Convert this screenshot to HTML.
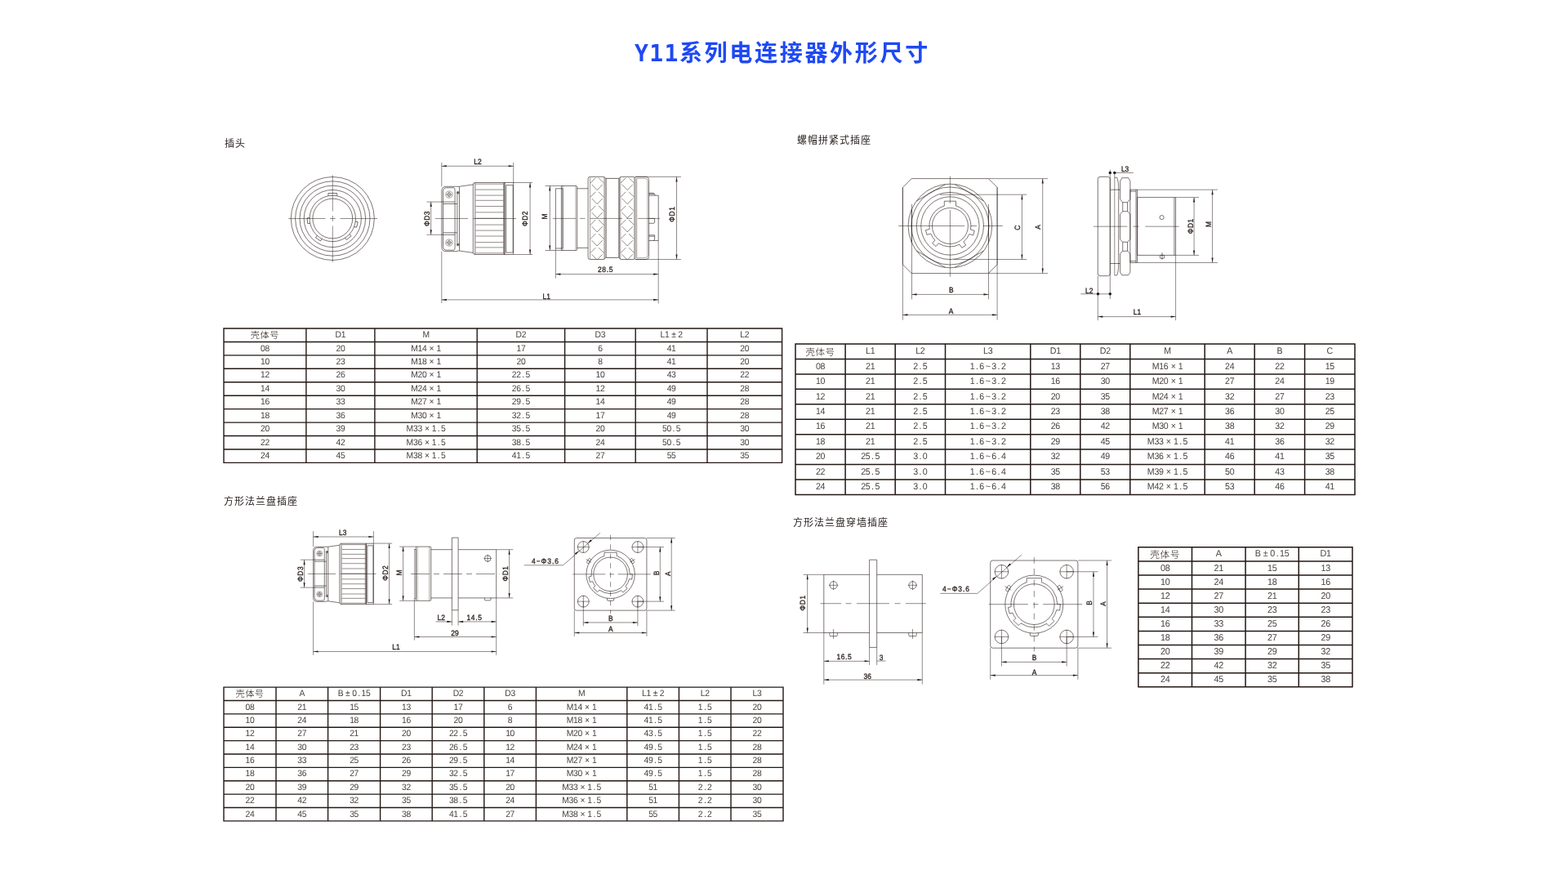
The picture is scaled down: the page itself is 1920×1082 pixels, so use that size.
<!DOCTYPE html>
<html lang="zh-CN">
<head>
<meta charset="utf-8">
<title>Y11系列电连接器外形尺寸</title>
<style>
html,body{margin:0;padding:0;background:#fff;}
body{width:1920px;height:1082px;position:relative;overflow:hidden;font-family:"Liberation Sans","Noto Sans CJK SC",sans-serif;}
h1{position:absolute;left:-2px;top:46px;width:1920px;margin:0;text-align:center;font:bold 28px/40px "DejaVu Sans Mono","Noto Sans CJK SC",sans-serif;letter-spacing:2.7px;color:#1f49f3;white-space:nowrap;}
.lab{position:absolute;margin:0;font:400 12px/16px "Liberation Sans","Noto Sans CJK SC",sans-serif;color:#2a2220;white-space:nowrap;letter-spacing:1px;}
svg{position:absolute;left:0;top:0;will-change:transform;}
h1,.lab{will-change:transform;}

svg text{text-rendering:geometricPrecision}
.o{fill:none;stroke:#231815;stroke-width:.6;stroke-linecap:butt;stroke-linejoin:round}
.d{fill:none;stroke:#231815;stroke-width:.5}
.c{fill:none;stroke:#231815;stroke-width:.5}
.i{fill:none;stroke:#231815;stroke-width:.4}
.g{fill:none;stroke:#8a8280;stroke-width:.9}
.k{fill:#231815;stroke:none}
.tb{fill:none;stroke:#231815;stroke-linecap:butt}
.t{font:9.35px "Liberation Sans","Noto Sans CJK SC",sans-serif;fill:#231815;stroke:#231815;stroke-width:.3px;text-anchor:middle;dominant-baseline:central}
.tt{font-family:"Liberation Sans","Noto Sans CJK SC",sans-serif;fill:#4a4240;text-anchor:middle;letter-spacing:-.3px}
.tt .cj{font-family:"Noto Sans CJK SC","Liberation Sans",sans-serif;font-weight:300;letter-spacing:.5px;font-size:103%;fill:#231815}
</style>
</head>
<body>
<h1><span style="letter-spacing:1.4px">Y11</span>系列电连接器外形尺寸</h1>
<p class="lab" style="left:275px;top:168px">插头</p>
<p class="lab" style="left:976px;top:164px">螺帽拼紧式插座</p>
<p class="lab" style="left:274px;top:606px">方形法兰盘插座</p>
<p class="lab" style="left:971px;top:632px">方形法兰盘穿墙插座</p>
<svg width="1920" height="1082" viewBox="0 0 1920 1082">
<path class="tb" style="stroke-width:1.4" d="M273.3 402H958.3M273.3 418.44H958.3M273.3 434.88H958.3M273.3 451.32H958.3M273.3 467.76H958.3M273.3 484.2H958.3M273.3 500.64H958.3M273.3 517.08H958.3M273.3 533.52H958.3M273.3 549.96H958.3M273.3 566.4H958.3M274 402V566.4M374.9 402V566.4M458.9 402V566.4M584.2 402V566.4M691.6 402V566.4M778.2 402V566.4M866 402V566.4M957.6 402V566.4"/>
<g class="tt" style="font-size:10.9px">
<text class="cj" x="324.45" y="414.39">壳体号</text>
<text transform="translate(416.9 412.79) scale(0.95 1)">D1</text>
<text transform="translate(521.55 412.79) scale(0.95 1)">M</text>
<text transform="translate(637.9 412.79) scale(0.95 1)">D2</text>
<text transform="translate(734.9 412.79) scale(0.95 1)">D3</text>
<text transform="translate(822.1 412.79) scale(0.95 1)">L1<tspan dx="2.93">±</tspan><tspan dx="2.93">2</tspan></text>
<text transform="translate(911.8 412.79) scale(0.95 1)">L2</text>
<text transform="translate(324.45 429.53) scale(0.95 1)">08</text>
<text transform="translate(416.9 429.53) scale(0.95 1)">20</text>
<text transform="translate(521.55 429.53) scale(0.95 1)">M14<tspan dx="3.25">×</tspan><tspan dx="3.25">1</tspan></text>
<text transform="translate(637.9 429.53) scale(0.95 1)">17</text>
<text transform="translate(734.9 429.53) scale(0.95 1)">6</text>
<text transform="translate(822.1 429.53) scale(0.95 1)">41</text>
<text transform="translate(911.8 429.53) scale(0.95 1)">20</text>
<text transform="translate(324.45 445.97) scale(0.95 1)">10</text>
<text transform="translate(416.9 445.97) scale(0.95 1)">23</text>
<text transform="translate(521.55 445.97) scale(0.95 1)">M18<tspan dx="3.25">×</tspan><tspan dx="3.25">1</tspan></text>
<text transform="translate(637.9 445.97) scale(0.95 1)">20</text>
<text transform="translate(734.9 445.97) scale(0.95 1)">8</text>
<text transform="translate(822.1 445.97) scale(0.95 1)">41</text>
<text transform="translate(911.8 445.97) scale(0.95 1)">20</text>
<text transform="translate(324.45 462.41) scale(0.95 1)">12</text>
<text transform="translate(416.9 462.41) scale(0.95 1)">26</text>
<text transform="translate(521.55 462.41) scale(0.95 1)">M20<tspan dx="3.25">×</tspan><tspan dx="3.25">1</tspan></text>
<text transform="translate(637.9 462.41) scale(0.95 1)">22<tspan dx="1.68">.</tspan><tspan dx="1.68">5</tspan></text>
<text transform="translate(734.9 462.41) scale(0.95 1)">10</text>
<text transform="translate(822.1 462.41) scale(0.95 1)">43</text>
<text transform="translate(911.8 462.41) scale(0.95 1)">22</text>
<text transform="translate(324.45 478.85) scale(0.95 1)">14</text>
<text transform="translate(416.9 478.85) scale(0.95 1)">30</text>
<text transform="translate(521.55 478.85) scale(0.95 1)">M24<tspan dx="3.25">×</tspan><tspan dx="3.25">1</tspan></text>
<text transform="translate(637.9 478.85) scale(0.95 1)">26<tspan dx="1.68">.</tspan><tspan dx="1.68">5</tspan></text>
<text transform="translate(734.9 478.85) scale(0.95 1)">12</text>
<text transform="translate(822.1 478.85) scale(0.95 1)">49</text>
<text transform="translate(911.8 478.85) scale(0.95 1)">28</text>
<text transform="translate(324.45 495.29) scale(0.95 1)">16</text>
<text transform="translate(416.9 495.29) scale(0.95 1)">33</text>
<text transform="translate(521.55 495.29) scale(0.95 1)">M27<tspan dx="3.25">×</tspan><tspan dx="3.25">1</tspan></text>
<text transform="translate(637.9 495.29) scale(0.95 1)">29<tspan dx="1.68">.</tspan><tspan dx="1.68">5</tspan></text>
<text transform="translate(734.9 495.29) scale(0.95 1)">14</text>
<text transform="translate(822.1 495.29) scale(0.95 1)">49</text>
<text transform="translate(911.8 495.29) scale(0.95 1)">28</text>
<text transform="translate(324.45 511.73) scale(0.95 1)">18</text>
<text transform="translate(416.9 511.73) scale(0.95 1)">36</text>
<text transform="translate(521.55 511.73) scale(0.95 1)">M30<tspan dx="3.25">×</tspan><tspan dx="3.25">1</tspan></text>
<text transform="translate(637.9 511.73) scale(0.95 1)">32<tspan dx="1.68">.</tspan><tspan dx="1.68">5</tspan></text>
<text transform="translate(734.9 511.73) scale(0.95 1)">17</text>
<text transform="translate(822.1 511.73) scale(0.95 1)">49</text>
<text transform="translate(911.8 511.73) scale(0.95 1)">28</text>
<text transform="translate(324.45 528.17) scale(0.95 1)">20</text>
<text transform="translate(416.9 528.17) scale(0.95 1)">39</text>
<text transform="translate(521.55 528.17) scale(0.95 1)">M33<tspan dx="3.25">×</tspan><tspan dx="3.25">1</tspan><tspan dx="1.68">.</tspan><tspan dx="1.68">5</tspan></text>
<text transform="translate(637.9 528.17) scale(0.95 1)">35<tspan dx="1.68">.</tspan><tspan dx="1.68">5</tspan></text>
<text transform="translate(734.9 528.17) scale(0.95 1)">20</text>
<text transform="translate(822.1 528.17) scale(0.95 1)">50<tspan dx="1.68">.</tspan><tspan dx="1.68">5</tspan></text>
<text transform="translate(911.8 528.17) scale(0.95 1)">30</text>
<text transform="translate(324.45 544.61) scale(0.95 1)">22</text>
<text transform="translate(416.9 544.61) scale(0.95 1)">42</text>
<text transform="translate(521.55 544.61) scale(0.95 1)">M36<tspan dx="3.25">×</tspan><tspan dx="3.25">1</tspan><tspan dx="1.68">.</tspan><tspan dx="1.68">5</tspan></text>
<text transform="translate(637.9 544.61) scale(0.95 1)">38<tspan dx="1.68">.</tspan><tspan dx="1.68">5</tspan></text>
<text transform="translate(734.9 544.61) scale(0.95 1)">24</text>
<text transform="translate(822.1 544.61) scale(0.95 1)">50<tspan dx="1.68">.</tspan><tspan dx="1.68">5</tspan></text>
<text transform="translate(911.8 544.61) scale(0.95 1)">30</text>
<text transform="translate(324.45 561.05) scale(0.95 1)">24</text>
<text transform="translate(416.9 561.05) scale(0.95 1)">45</text>
<text transform="translate(521.55 561.05) scale(0.95 1)">M38<tspan dx="3.25">×</tspan><tspan dx="3.25">1</tspan><tspan dx="1.68">.</tspan><tspan dx="1.68">5</tspan></text>
<text transform="translate(637.9 561.05) scale(0.95 1)">41<tspan dx="1.68">.</tspan><tspan dx="1.68">5</tspan></text>
<text transform="translate(734.9 561.05) scale(0.95 1)">27</text>
<text transform="translate(822.1 561.05) scale(0.95 1)">55</text>
<text transform="translate(911.8 561.05) scale(0.95 1)">35</text>
</g>
<path class="tb" style="stroke-width:1.5" d="M973.25 421H1659.75M973.25 439.44H1659.75M973.25 457.88H1659.75M973.25 476.32H1659.75M973.25 494.76H1659.75M973.25 513.2H1659.75M973.25 531.64H1659.75M973.25 550.08H1659.75M973.25 568.52H1659.75M973.25 586.96H1659.75M973.25 605.4H1659.75M974 421V605.4M1035.1 421V605.4M1096.2 421V605.4M1157.5 421V605.4M1261.8 421V605.4M1322.8 421V605.4M1383.8 421V605.4M1475.2 421V605.4M1536.2 421V605.4M1597.6 421V605.4M1659 421V605.4"/>
<g class="tt" style="font-size:11.2px">
<text class="cj" x="1004.55" y="434.5">壳体号</text>
<text transform="translate(1065.65 432.9) scale(0.95 1)">L1</text>
<text transform="translate(1126.85 432.9) scale(0.95 1)">L2</text>
<text transform="translate(1209.65 432.9) scale(0.95 1)">L3</text>
<text transform="translate(1292.3 432.9) scale(0.95 1)">D1</text>
<text transform="translate(1353.3 432.9) scale(0.95 1)">D2</text>
<text transform="translate(1429.5 432.9) scale(0.95 1)">M</text>
<text transform="translate(1505.7 432.9) scale(0.95 1)">A</text>
<text transform="translate(1566.9 432.9) scale(0.95 1)">B</text>
<text transform="translate(1628.3 432.9) scale(0.95 1)">C</text>
<text transform="translate(1004.55 451.64) scale(0.95 1)">08</text>
<text transform="translate(1065.65 451.64) scale(0.95 1)">21</text>
<text transform="translate(1126.85 451.64) scale(0.95 1)">2<tspan dx="1.72">.</tspan><tspan dx="1.72">5</tspan></text>
<text transform="translate(1209.65 451.64) scale(0.95 1)">1<tspan dx="1.72">.</tspan><tspan dx="1.72">6</tspan><tspan dx="1.83">~</tspan><tspan dx="1.83">3</tspan><tspan dx="1.72">.</tspan><tspan dx="1.72">2</tspan></text>
<text transform="translate(1292.3 451.64) scale(0.95 1)">13</text>
<text transform="translate(1353.3 451.64) scale(0.95 1)">27</text>
<text transform="translate(1429.5 451.64) scale(0.95 1)">M16<tspan dx="3.34">×</tspan><tspan dx="3.34">1</tspan></text>
<text transform="translate(1505.7 451.64) scale(0.95 1)">24</text>
<text transform="translate(1566.9 451.64) scale(0.95 1)">22</text>
<text transform="translate(1628.3 451.64) scale(0.95 1)">15</text>
<text transform="translate(1004.55 470.08) scale(0.95 1)">10</text>
<text transform="translate(1065.65 470.08) scale(0.95 1)">21</text>
<text transform="translate(1126.85 470.08) scale(0.95 1)">2<tspan dx="1.72">.</tspan><tspan dx="1.72">5</tspan></text>
<text transform="translate(1209.65 470.08) scale(0.95 1)">1<tspan dx="1.72">.</tspan><tspan dx="1.72">6</tspan><tspan dx="1.83">~</tspan><tspan dx="1.83">3</tspan><tspan dx="1.72">.</tspan><tspan dx="1.72">2</tspan></text>
<text transform="translate(1292.3 470.08) scale(0.95 1)">16</text>
<text transform="translate(1353.3 470.08) scale(0.95 1)">30</text>
<text transform="translate(1429.5 470.08) scale(0.95 1)">M20<tspan dx="3.34">×</tspan><tspan dx="3.34">1</tspan></text>
<text transform="translate(1505.7 470.08) scale(0.95 1)">27</text>
<text transform="translate(1566.9 470.08) scale(0.95 1)">24</text>
<text transform="translate(1628.3 470.08) scale(0.95 1)">19</text>
<text transform="translate(1004.55 488.52) scale(0.95 1)">12</text>
<text transform="translate(1065.65 488.52) scale(0.95 1)">21</text>
<text transform="translate(1126.85 488.52) scale(0.95 1)">2<tspan dx="1.72">.</tspan><tspan dx="1.72">5</tspan></text>
<text transform="translate(1209.65 488.52) scale(0.95 1)">1<tspan dx="1.72">.</tspan><tspan dx="1.72">6</tspan><tspan dx="1.83">~</tspan><tspan dx="1.83">3</tspan><tspan dx="1.72">.</tspan><tspan dx="1.72">2</tspan></text>
<text transform="translate(1292.3 488.52) scale(0.95 1)">20</text>
<text transform="translate(1353.3 488.52) scale(0.95 1)">35</text>
<text transform="translate(1429.5 488.52) scale(0.95 1)">M24<tspan dx="3.34">×</tspan><tspan dx="3.34">1</tspan></text>
<text transform="translate(1505.7 488.52) scale(0.95 1)">32</text>
<text transform="translate(1566.9 488.52) scale(0.95 1)">27</text>
<text transform="translate(1628.3 488.52) scale(0.95 1)">23</text>
<text transform="translate(1004.55 506.96) scale(0.95 1)">14</text>
<text transform="translate(1065.65 506.96) scale(0.95 1)">21</text>
<text transform="translate(1126.85 506.96) scale(0.95 1)">2<tspan dx="1.72">.</tspan><tspan dx="1.72">5</tspan></text>
<text transform="translate(1209.65 506.96) scale(0.95 1)">1<tspan dx="1.72">.</tspan><tspan dx="1.72">6</tspan><tspan dx="1.83">~</tspan><tspan dx="1.83">3</tspan><tspan dx="1.72">.</tspan><tspan dx="1.72">2</tspan></text>
<text transform="translate(1292.3 506.96) scale(0.95 1)">23</text>
<text transform="translate(1353.3 506.96) scale(0.95 1)">38</text>
<text transform="translate(1429.5 506.96) scale(0.95 1)">M27<tspan dx="3.34">×</tspan><tspan dx="3.34">1</tspan></text>
<text transform="translate(1505.7 506.96) scale(0.95 1)">36</text>
<text transform="translate(1566.9 506.96) scale(0.95 1)">30</text>
<text transform="translate(1628.3 506.96) scale(0.95 1)">25</text>
<text transform="translate(1004.55 525.4) scale(0.95 1)">16</text>
<text transform="translate(1065.65 525.4) scale(0.95 1)">21</text>
<text transform="translate(1126.85 525.4) scale(0.95 1)">2<tspan dx="1.72">.</tspan><tspan dx="1.72">5</tspan></text>
<text transform="translate(1209.65 525.4) scale(0.95 1)">1<tspan dx="1.72">.</tspan><tspan dx="1.72">6</tspan><tspan dx="1.83">~</tspan><tspan dx="1.83">3</tspan><tspan dx="1.72">.</tspan><tspan dx="1.72">2</tspan></text>
<text transform="translate(1292.3 525.4) scale(0.95 1)">26</text>
<text transform="translate(1353.3 525.4) scale(0.95 1)">42</text>
<text transform="translate(1429.5 525.4) scale(0.95 1)">M30<tspan dx="3.34">×</tspan><tspan dx="3.34">1</tspan></text>
<text transform="translate(1505.7 525.4) scale(0.95 1)">38</text>
<text transform="translate(1566.9 525.4) scale(0.95 1)">32</text>
<text transform="translate(1628.3 525.4) scale(0.95 1)">29</text>
<text transform="translate(1004.55 543.84) scale(0.95 1)">18</text>
<text transform="translate(1065.65 543.84) scale(0.95 1)">21</text>
<text transform="translate(1126.85 543.84) scale(0.95 1)">2<tspan dx="1.72">.</tspan><tspan dx="1.72">5</tspan></text>
<text transform="translate(1209.65 543.84) scale(0.95 1)">1<tspan dx="1.72">.</tspan><tspan dx="1.72">6</tspan><tspan dx="1.83">~</tspan><tspan dx="1.83">3</tspan><tspan dx="1.72">.</tspan><tspan dx="1.72">2</tspan></text>
<text transform="translate(1292.3 543.84) scale(0.95 1)">29</text>
<text transform="translate(1353.3 543.84) scale(0.95 1)">45</text>
<text transform="translate(1429.5 543.84) scale(0.95 1)">M33<tspan dx="3.34">×</tspan><tspan dx="3.34">1</tspan><tspan dx="1.72">.</tspan><tspan dx="1.72">5</tspan></text>
<text transform="translate(1505.7 543.84) scale(0.95 1)">41</text>
<text transform="translate(1566.9 543.84) scale(0.95 1)">36</text>
<text transform="translate(1628.3 543.84) scale(0.95 1)">32</text>
<text transform="translate(1004.55 562.28) scale(0.95 1)">20</text>
<text transform="translate(1065.65 562.28) scale(0.95 1)">25<tspan dx="1.72">.</tspan><tspan dx="1.72">5</tspan></text>
<text transform="translate(1126.85 562.28) scale(0.95 1)">3<tspan dx="1.72">.</tspan><tspan dx="1.72">0</tspan></text>
<text transform="translate(1209.65 562.28) scale(0.95 1)">1<tspan dx="1.72">.</tspan><tspan dx="1.72">6</tspan><tspan dx="1.83">~</tspan><tspan dx="1.83">6</tspan><tspan dx="1.72">.</tspan><tspan dx="1.72">4</tspan></text>
<text transform="translate(1292.3 562.28) scale(0.95 1)">32</text>
<text transform="translate(1353.3 562.28) scale(0.95 1)">49</text>
<text transform="translate(1429.5 562.28) scale(0.95 1)">M36<tspan dx="3.34">×</tspan><tspan dx="3.34">1</tspan><tspan dx="1.72">.</tspan><tspan dx="1.72">5</tspan></text>
<text transform="translate(1505.7 562.28) scale(0.95 1)">46</text>
<text transform="translate(1566.9 562.28) scale(0.95 1)">41</text>
<text transform="translate(1628.3 562.28) scale(0.95 1)">35</text>
<text transform="translate(1004.55 580.72) scale(0.95 1)">22</text>
<text transform="translate(1065.65 580.72) scale(0.95 1)">25<tspan dx="1.72">.</tspan><tspan dx="1.72">5</tspan></text>
<text transform="translate(1126.85 580.72) scale(0.95 1)">3<tspan dx="1.72">.</tspan><tspan dx="1.72">0</tspan></text>
<text transform="translate(1209.65 580.72) scale(0.95 1)">1<tspan dx="1.72">.</tspan><tspan dx="1.72">6</tspan><tspan dx="1.83">~</tspan><tspan dx="1.83">6</tspan><tspan dx="1.72">.</tspan><tspan dx="1.72">4</tspan></text>
<text transform="translate(1292.3 580.72) scale(0.95 1)">35</text>
<text transform="translate(1353.3 580.72) scale(0.95 1)">53</text>
<text transform="translate(1429.5 580.72) scale(0.95 1)">M39<tspan dx="3.34">×</tspan><tspan dx="3.34">1</tspan><tspan dx="1.72">.</tspan><tspan dx="1.72">5</tspan></text>
<text transform="translate(1505.7 580.72) scale(0.95 1)">50</text>
<text transform="translate(1566.9 580.72) scale(0.95 1)">43</text>
<text transform="translate(1628.3 580.72) scale(0.95 1)">38</text>
<text transform="translate(1004.55 599.16) scale(0.95 1)">24</text>
<text transform="translate(1065.65 599.16) scale(0.95 1)">25<tspan dx="1.72">.</tspan><tspan dx="1.72">5</tspan></text>
<text transform="translate(1126.85 599.16) scale(0.95 1)">3<tspan dx="1.72">.</tspan><tspan dx="1.72">0</tspan></text>
<text transform="translate(1209.65 599.16) scale(0.95 1)">1<tspan dx="1.72">.</tspan><tspan dx="1.72">6</tspan><tspan dx="1.83">~</tspan><tspan dx="1.83">6</tspan><tspan dx="1.72">.</tspan><tspan dx="1.72">4</tspan></text>
<text transform="translate(1292.3 599.16) scale(0.95 1)">38</text>
<text transform="translate(1353.3 599.16) scale(0.95 1)">56</text>
<text transform="translate(1429.5 599.16) scale(0.95 1)">M42<tspan dx="3.34">×</tspan><tspan dx="3.34">1</tspan><tspan dx="1.72">.</tspan><tspan dx="1.72">5</tspan></text>
<text transform="translate(1505.7 599.16) scale(0.95 1)">53</text>
<text transform="translate(1566.9 599.16) scale(0.95 1)">46</text>
<text transform="translate(1628.3 599.16) scale(0.95 1)">41</text>
</g>
<path class="tb" style="stroke-width:1.4" d="M273.3 841.1H959.7M273.3 857.48H959.7M273.3 873.86H959.7M273.3 890.24H959.7M273.3 906.62H959.7M273.3 923H959.7M273.3 939.38H959.7M273.3 955.76H959.7M273.3 972.14H959.7M273.3 988.52H959.7M273.3 1004.9H959.7M274 841.1V1004.9M338 841.1V1004.9M401.6 841.1V1004.9M465.6 841.1V1004.9M529.2 841.1V1004.9M592.8 841.1V1004.9M656.4 841.1V1004.9M767.8 841.1V1004.9M831.4 841.1V1004.9M895 841.1V1004.9M959 841.1V1004.9"/>
<g class="tt" style="font-size:10.9px">
<text class="cj" x="306" y="853.46">壳体号</text>
<text transform="translate(369.8 851.86) scale(0.95 1)">A</text>
<text transform="translate(433.6 851.86) scale(0.95 1)">B<tspan dx="2.93">±</tspan><tspan dx="2.93">0</tspan><tspan dx="1.68">.</tspan><tspan dx="1.68">1</tspan>5</text>
<text transform="translate(497.4 851.86) scale(0.95 1)">D1</text>
<text transform="translate(561 851.86) scale(0.95 1)">D2</text>
<text transform="translate(624.6 851.86) scale(0.95 1)">D3</text>
<text transform="translate(712.1 851.86) scale(0.95 1)">M</text>
<text transform="translate(799.6 851.86) scale(0.95 1)">L1<tspan dx="2.93">±</tspan><tspan dx="2.93">2</tspan></text>
<text transform="translate(863.2 851.86) scale(0.95 1)">L2</text>
<text transform="translate(927 851.86) scale(0.95 1)">L3</text>
<text transform="translate(306 868.54) scale(0.95 1)">08</text>
<text transform="translate(369.8 868.54) scale(0.95 1)">21</text>
<text transform="translate(433.6 868.54) scale(0.95 1)">15</text>
<text transform="translate(497.4 868.54) scale(0.95 1)">13</text>
<text transform="translate(561 868.54) scale(0.95 1)">17</text>
<text transform="translate(624.6 868.54) scale(0.95 1)">6</text>
<text transform="translate(712.1 868.54) scale(0.95 1)">M14<tspan dx="3.25">×</tspan><tspan dx="3.25">1</tspan></text>
<text transform="translate(799.6 868.54) scale(0.95 1)">41<tspan dx="1.68">.</tspan><tspan dx="1.68">5</tspan></text>
<text transform="translate(863.2 868.54) scale(0.95 1)">1<tspan dx="1.68">.</tspan><tspan dx="1.68">5</tspan></text>
<text transform="translate(927 868.54) scale(0.95 1)">20</text>
<text transform="translate(306 884.92) scale(0.95 1)">10</text>
<text transform="translate(369.8 884.92) scale(0.95 1)">24</text>
<text transform="translate(433.6 884.92) scale(0.95 1)">18</text>
<text transform="translate(497.4 884.92) scale(0.95 1)">16</text>
<text transform="translate(561 884.92) scale(0.95 1)">20</text>
<text transform="translate(624.6 884.92) scale(0.95 1)">8</text>
<text transform="translate(712.1 884.92) scale(0.95 1)">M18<tspan dx="3.25">×</tspan><tspan dx="3.25">1</tspan></text>
<text transform="translate(799.6 884.92) scale(0.95 1)">41<tspan dx="1.68">.</tspan><tspan dx="1.68">5</tspan></text>
<text transform="translate(863.2 884.92) scale(0.95 1)">1<tspan dx="1.68">.</tspan><tspan dx="1.68">5</tspan></text>
<text transform="translate(927 884.92) scale(0.95 1)">20</text>
<text transform="translate(306 901.3) scale(0.95 1)">12</text>
<text transform="translate(369.8 901.3) scale(0.95 1)">27</text>
<text transform="translate(433.6 901.3) scale(0.95 1)">21</text>
<text transform="translate(497.4 901.3) scale(0.95 1)">20</text>
<text transform="translate(561 901.3) scale(0.95 1)">22<tspan dx="1.68">.</tspan><tspan dx="1.68">5</tspan></text>
<text transform="translate(624.6 901.3) scale(0.95 1)">10</text>
<text transform="translate(712.1 901.3) scale(0.95 1)">M20<tspan dx="3.25">×</tspan><tspan dx="3.25">1</tspan></text>
<text transform="translate(799.6 901.3) scale(0.95 1)">43<tspan dx="1.68">.</tspan><tspan dx="1.68">5</tspan></text>
<text transform="translate(863.2 901.3) scale(0.95 1)">1<tspan dx="1.68">.</tspan><tspan dx="1.68">5</tspan></text>
<text transform="translate(927 901.3) scale(0.95 1)">22</text>
<text transform="translate(306 917.68) scale(0.95 1)">14</text>
<text transform="translate(369.8 917.68) scale(0.95 1)">30</text>
<text transform="translate(433.6 917.68) scale(0.95 1)">23</text>
<text transform="translate(497.4 917.68) scale(0.95 1)">23</text>
<text transform="translate(561 917.68) scale(0.95 1)">26<tspan dx="1.68">.</tspan><tspan dx="1.68">5</tspan></text>
<text transform="translate(624.6 917.68) scale(0.95 1)">12</text>
<text transform="translate(712.1 917.68) scale(0.95 1)">M24<tspan dx="3.25">×</tspan><tspan dx="3.25">1</tspan></text>
<text transform="translate(799.6 917.68) scale(0.95 1)">49<tspan dx="1.68">.</tspan><tspan dx="1.68">5</tspan></text>
<text transform="translate(863.2 917.68) scale(0.95 1)">1<tspan dx="1.68">.</tspan><tspan dx="1.68">5</tspan></text>
<text transform="translate(927 917.68) scale(0.95 1)">28</text>
<text transform="translate(306 934.06) scale(0.95 1)">16</text>
<text transform="translate(369.8 934.06) scale(0.95 1)">33</text>
<text transform="translate(433.6 934.06) scale(0.95 1)">25</text>
<text transform="translate(497.4 934.06) scale(0.95 1)">26</text>
<text transform="translate(561 934.06) scale(0.95 1)">29<tspan dx="1.68">.</tspan><tspan dx="1.68">5</tspan></text>
<text transform="translate(624.6 934.06) scale(0.95 1)">14</text>
<text transform="translate(712.1 934.06) scale(0.95 1)">M27<tspan dx="3.25">×</tspan><tspan dx="3.25">1</tspan></text>
<text transform="translate(799.6 934.06) scale(0.95 1)">49<tspan dx="1.68">.</tspan><tspan dx="1.68">5</tspan></text>
<text transform="translate(863.2 934.06) scale(0.95 1)">1<tspan dx="1.68">.</tspan><tspan dx="1.68">5</tspan></text>
<text transform="translate(927 934.06) scale(0.95 1)">28</text>
<text transform="translate(306 950.44) scale(0.95 1)">18</text>
<text transform="translate(369.8 950.44) scale(0.95 1)">36</text>
<text transform="translate(433.6 950.44) scale(0.95 1)">27</text>
<text transform="translate(497.4 950.44) scale(0.95 1)">29</text>
<text transform="translate(561 950.44) scale(0.95 1)">32<tspan dx="1.68">.</tspan><tspan dx="1.68">5</tspan></text>
<text transform="translate(624.6 950.44) scale(0.95 1)">17</text>
<text transform="translate(712.1 950.44) scale(0.95 1)">M30<tspan dx="3.25">×</tspan><tspan dx="3.25">1</tspan></text>
<text transform="translate(799.6 950.44) scale(0.95 1)">49<tspan dx="1.68">.</tspan><tspan dx="1.68">5</tspan></text>
<text transform="translate(863.2 950.44) scale(0.95 1)">1<tspan dx="1.68">.</tspan><tspan dx="1.68">5</tspan></text>
<text transform="translate(927 950.44) scale(0.95 1)">28</text>
<text transform="translate(306 966.82) scale(0.95 1)">20</text>
<text transform="translate(369.8 966.82) scale(0.95 1)">39</text>
<text transform="translate(433.6 966.82) scale(0.95 1)">29</text>
<text transform="translate(497.4 966.82) scale(0.95 1)">32</text>
<text transform="translate(561 966.82) scale(0.95 1)">35<tspan dx="1.68">.</tspan><tspan dx="1.68">5</tspan></text>
<text transform="translate(624.6 966.82) scale(0.95 1)">20</text>
<text transform="translate(712.1 966.82) scale(0.95 1)">M33<tspan dx="3.25">×</tspan><tspan dx="3.25">1</tspan><tspan dx="1.68">.</tspan><tspan dx="1.68">5</tspan></text>
<text transform="translate(799.6 966.82) scale(0.95 1)">51</text>
<text transform="translate(863.2 966.82) scale(0.95 1)">2<tspan dx="1.68">.</tspan><tspan dx="1.68">2</tspan></text>
<text transform="translate(927 966.82) scale(0.95 1)">30</text>
<text transform="translate(306 983.2) scale(0.95 1)">22</text>
<text transform="translate(369.8 983.2) scale(0.95 1)">42</text>
<text transform="translate(433.6 983.2) scale(0.95 1)">32</text>
<text transform="translate(497.4 983.2) scale(0.95 1)">35</text>
<text transform="translate(561 983.2) scale(0.95 1)">38<tspan dx="1.68">.</tspan><tspan dx="1.68">5</tspan></text>
<text transform="translate(624.6 983.2) scale(0.95 1)">24</text>
<text transform="translate(712.1 983.2) scale(0.95 1)">M36<tspan dx="3.25">×</tspan><tspan dx="3.25">1</tspan><tspan dx="1.68">.</tspan><tspan dx="1.68">5</tspan></text>
<text transform="translate(799.6 983.2) scale(0.95 1)">51</text>
<text transform="translate(863.2 983.2) scale(0.95 1)">2<tspan dx="1.68">.</tspan><tspan dx="1.68">2</tspan></text>
<text transform="translate(927 983.2) scale(0.95 1)">30</text>
<text transform="translate(306 999.58) scale(0.95 1)">24</text>
<text transform="translate(369.8 999.58) scale(0.95 1)">45</text>
<text transform="translate(433.6 999.58) scale(0.95 1)">35</text>
<text transform="translate(497.4 999.58) scale(0.95 1)">38</text>
<text transform="translate(561 999.58) scale(0.95 1)">41<tspan dx="1.68">.</tspan><tspan dx="1.68">5</tspan></text>
<text transform="translate(624.6 999.58) scale(0.95 1)">27</text>
<text transform="translate(712.1 999.58) scale(0.95 1)">M38<tspan dx="3.25">×</tspan><tspan dx="3.25">1</tspan><tspan dx="1.68">.</tspan><tspan dx="1.68">5</tspan></text>
<text transform="translate(799.6 999.58) scale(0.95 1)">55</text>
<text transform="translate(863.2 999.58) scale(0.95 1)">2<tspan dx="1.68">.</tspan><tspan dx="1.68">2</tspan></text>
<text transform="translate(927 999.58) scale(0.95 1)">35</text>
</g>
<path class="tb" style="stroke-width:1.5" d="M1393.15 669.8H1656.75M1393.15 686.9H1656.75M1393.15 704H1656.75M1393.15 721.1H1656.75M1393.15 738.2H1656.75M1393.15 755.3H1656.75M1393.15 772.4H1656.75M1393.15 789.5H1656.75M1393.15 806.6H1656.75M1393.15 823.7H1656.75M1393.15 840.8H1656.75M1393.9 669.8V840.8M1459.5 669.8V840.8M1525.1 669.8V840.8M1590.3 669.8V840.8M1656 669.8V840.8"/>
<g class="tt" style="font-size:11.4px">
<text class="cj" x="1426.7" y="682.7">壳体号</text>
<text transform="translate(1492.3 681.1) scale(0.95 1)">A</text>
<text transform="translate(1557.7 681.1) scale(0.95 1)">B<tspan dx="3.07">±</tspan><tspan dx="3.07">0</tspan><tspan dx="1.75">.</tspan><tspan dx="1.75">1</tspan>5</text>
<text transform="translate(1623.15 681.1) scale(0.95 1)">D1</text>
<text transform="translate(1426.7 698.5) scale(0.95 1)">08</text>
<text transform="translate(1492.3 698.5) scale(0.95 1)">21</text>
<text transform="translate(1557.7 698.5) scale(0.95 1)">15</text>
<text transform="translate(1623.15 698.5) scale(0.95 1)">13</text>
<text transform="translate(1426.7 715.6) scale(0.95 1)">10</text>
<text transform="translate(1492.3 715.6) scale(0.95 1)">24</text>
<text transform="translate(1557.7 715.6) scale(0.95 1)">18</text>
<text transform="translate(1623.15 715.6) scale(0.95 1)">16</text>
<text transform="translate(1426.7 732.7) scale(0.95 1)">12</text>
<text transform="translate(1492.3 732.7) scale(0.95 1)">27</text>
<text transform="translate(1557.7 732.7) scale(0.95 1)">21</text>
<text transform="translate(1623.15 732.7) scale(0.95 1)">20</text>
<text transform="translate(1426.7 749.8) scale(0.95 1)">14</text>
<text transform="translate(1492.3 749.8) scale(0.95 1)">30</text>
<text transform="translate(1557.7 749.8) scale(0.95 1)">23</text>
<text transform="translate(1623.15 749.8) scale(0.95 1)">23</text>
<text transform="translate(1426.7 766.9) scale(0.95 1)">16</text>
<text transform="translate(1492.3 766.9) scale(0.95 1)">33</text>
<text transform="translate(1557.7 766.9) scale(0.95 1)">25</text>
<text transform="translate(1623.15 766.9) scale(0.95 1)">26</text>
<text transform="translate(1426.7 784) scale(0.95 1)">18</text>
<text transform="translate(1492.3 784) scale(0.95 1)">36</text>
<text transform="translate(1557.7 784) scale(0.95 1)">27</text>
<text transform="translate(1623.15 784) scale(0.95 1)">29</text>
<text transform="translate(1426.7 801.1) scale(0.95 1)">20</text>
<text transform="translate(1492.3 801.1) scale(0.95 1)">39</text>
<text transform="translate(1557.7 801.1) scale(0.95 1)">29</text>
<text transform="translate(1623.15 801.1) scale(0.95 1)">32</text>
<text transform="translate(1426.7 818.2) scale(0.95 1)">22</text>
<text transform="translate(1492.3 818.2) scale(0.95 1)">42</text>
<text transform="translate(1557.7 818.2) scale(0.95 1)">32</text>
<text transform="translate(1623.15 818.2) scale(0.95 1)">35</text>
<text transform="translate(1426.7 835.3) scale(0.95 1)">24</text>
<text transform="translate(1492.3 835.3) scale(0.95 1)">45</text>
<text transform="translate(1557.7 835.3) scale(0.95 1)">35</text>
<text transform="translate(1623.15 835.3) scale(0.95 1)">38</text>
</g>
<circle class="o" cx="407.3" cy="267.5" r="51"/>
<circle class="o" cx="407.3" cy="267.5" r="45.7"/>
<circle class="o" cx="407.3" cy="267.5" r="40.3"/>
<circle class="o" cx="407.3" cy="267.5" r="35.1"/>
<circle class="o" cx="407.3" cy="267.5" r="28.2"/>
<circle class="o" cx="407.3" cy="267.5" r="24.4"/>
<path class="o" transform="rotate(0 407.3 267.5)" d="M401.9 239.7V236.5H412.7V239.7"/>
<path class="o" transform="rotate(-95 407.3 267.5)" d="M403.9 239.7V236.5H410.7V239.7"/>
<path class="o" transform="rotate(104 407.3 267.5)" d="M403.9 239.7V236.5H410.7V239.7"/>
<path class="o" transform="rotate(-145 407.3 267.5)" d="M403.7 239.7V236.5H410.9V239.7"/>
<path class="o" transform="rotate(140 407.3 267.5)" d="M403.7 239.7V236.5H410.9V239.7"/>
<path class="c" d="M353.2 267.5L398.5 267.5"/>
<path class="c" d="M404 267.5L410.8 267.5"/>
<path class="c" d="M416.5 267.5L462 267.5"/>
<path class="c" d="M407.3 214.4L407.3 258.5"/>
<path class="c" d="M407.3 264L407.3 271"/>
<path class="c" d="M407.3 276.5L407.3 320.8"/>
<path class="o" d="M557.1 228.3H546.4Q540.8 228.3 540.8 233.9V302.1Q540.8 307.7 546.4 307.7H557.1"/>
<path class="o" d="M555.9 229.8H546.9Q542.5 229.8 542.5 234.2V301.8Q542.5 306.2 546.9 306.2H555.9"/>
<path class="o" d="M555.9 229.8Q557.1 230.1 557.1 233.3V249.5"/>
<path class="o" d="M555.9 306.2Q557.1 305.9 557.1 302.7V284.8"/>
<path class="o" d="M542.5 249.5L559.9 249.5"/>
<path class="o" d="M542.5 284.8L559.9 284.8"/>
<path class="o" d="M540.8 247.1L557.1 247.1"/>
<path class="o" d="M540.8 287.3L557.1 287.3"/>
<path class="o" d="M557.1 249.5L557.1 284.8"/>
<path class="o" d="M559.9 237.6L559.9 297.5"/>
<path class="o" d="M562.5 228.4L562.5 306.9"/>
<circle class="i" cx="549.9" cy="238.1" r="4.1"/>
<circle class="c" cx="549.9" cy="238.1" r="2.25"/>
<path class="i" d="M546.62 238.1L553.18 238.1"/>
<path class="i" d="M549.9 234.82L549.9 241.38"/>
<circle class="i" cx="549.9" cy="297" r="4.1"/>
<circle class="c" cx="549.9" cy="297" r="2.25"/>
<path class="i" d="M546.62 297L553.18 297"/>
<path class="i" d="M549.9 293.72L549.9 300.28"/>
<circle class="o" cx="560.7" cy="235.9" r="1.5"/>
<circle class="k" cx="560.7" cy="235.9" r="0.8"/>
<circle class="o" cx="560.7" cy="299.4" r="1.5"/>
<circle class="k" cx="560.7" cy="299.4" r="0.8"/>
<path class="o" d="M557.1 228.3L562.5 228.3L579.3 225.9"/>
<path class="o" d="M557.1 307.7L562.5 307L579.3 309.4"/>
<path class="o" d="M579.3 309V226Q579.4 223.5 581.8 223.5H617.9V311.5H581.8Q579.4 311.5 579.3 309Z"/>
<path class="o" d="M581.8 223.5L581.8 311.5"/>
<path class="g" d="M582.4 225.2L617.5 225.2"/>
<path class="g" d="M582.4 232.1L617.5 232.1"/>
<path class="g" d="M582.4 239.1L617.5 239.1"/>
<path class="g" d="M582.4 245.3L617.5 245.3"/>
<path class="g" d="M582.4 252.5L617.5 252.5"/>
<path class="g" d="M582.4 259.9L617.5 259.9"/>
<path class="g" d="M582.4 275.1L617.5 275.1"/>
<path class="g" d="M582.4 282.1L617.5 282.1"/>
<path class="g" d="M582.4 289L617.5 289"/>
<path class="g" d="M582.4 296.6L617.5 296.6"/>
<path class="g" d="M582.4 302.9L617.5 302.9"/>
<path class="g" d="M582.4 309.8L617.5 309.8"/>
<path class="g" d="M582.4 267.2L617.5 267.2"/>
<path class="g" d="M616.6 223.5L616.6 311.5"/>
<rect class="o" x="617.9" y="223.5" width="10.8" height="88"/>
<rect class="o" x="619.7" y="226.6" width="8.5" height="82.5"/>
<path class="c" d="M532.9 267.5L573 267.5"/>
<path class="c" d="M579.3 267.5L632 267.5"/>
<path class="d" d="M540.8 198.9L540.8 228.3"/>
<path class="d" d="M540.8 307.7L540.8 371"/>
<path class="d" d="M628.7 198.9L628.7 223.5"/>
<path class="d" d="M540.8 203.3L628.7 203.3"/>
<path class="k" d="M540.8 203.3L546.8 202.25L546.8 204.35Z"/>
<path class="k" d="M628.7 203.3L622.7 204.35L622.7 202.25Z"/>
<text class="t" transform="translate(584.9 197.9) scale(0.9 1)">L2</text>
<path class="d" d="M522.5 247.1L540.8 247.1"/>
<path class="d" d="M522.5 287.3L540.8 287.3"/>
<path class="d" d="M527.7 247.1L527.7 287.3"/>
<path class="k" d="M527.7 247.1L528.75 253.1L526.65 253.1Z"/>
<path class="k" d="M527.7 287.3L526.65 281.3L528.75 281.3Z"/>
<text class="t" transform="translate(522.6 267.5) rotate(-90) scale(0.9 1)" letter-spacing=".6">ΦD3</text>
<path class="d" d="M628.7 223.5L652.1 223.5"/>
<path class="d" d="M628.7 311.5L652.1 311.5"/>
<path class="d" d="M649.1 223.5L649.1 311.5"/>
<path class="k" d="M649.1 223.5L650.15 229.5L648.05 229.5Z"/>
<path class="k" d="M649.1 311.5L648.05 305.5L650.15 305.5Z"/>
<text class="t" transform="translate(643.1 267.5) rotate(-90) scale(0.9 1)" letter-spacing=".6">ΦD2</text>
<rect class="o" x="680.4" y="230.8" width="8.7" height="73.2"/>
<rect class="o" x="687.4" y="227.5" width="19.2" height="79" rx="1.2"/>
<path class="i" d="M689.1 227.5L689.1 306.5"/>
<path class="i" d="M704.9 227.5L704.9 306.5"/>
<path class="o" d="M706.6 230.8L720.1 230.8"/>
<path class="o" d="M706.6 303.4L720.1 303.4"/>
<rect class="o" x="720.1" y="216.4" width="21" height="101.1" rx="2.2"/>
<path class="i" d="M722.5 217L722.5 317"/>
<path class="i" d="M739.8 217L739.8 317"/>
<clipPath id="cp1"><rect x="722.5" y="216.4" width="17.3" height="101.1"/></clipPath><g clip-path="url(#cp1)">
<path class="c" d="M724.55 191.6L731.15 198.5L737.75 191.6"/>
<path class="c" d="M729.25 200.6L722.5 207.35"/>
<path class="c" d="M733.05 200.6L739.8 207.35"/>
<path class="c" d="M724.55 208.7L731.15 215.6L737.75 208.7"/>
<path class="c" d="M729.25 217.7L722.5 224.45"/>
<path class="c" d="M733.05 217.7L739.8 224.45"/>
<path class="c" d="M724.55 225.8L731.15 232.7L737.75 225.8"/>
<path class="c" d="M729.25 234.8L722.5 241.55"/>
<path class="c" d="M733.05 234.8L739.8 241.55"/>
<path class="c" d="M724.55 242.9L731.15 249.8L737.75 242.9"/>
<path class="c" d="M729.25 251.9L722.5 258.65"/>
<path class="c" d="M733.05 251.9L739.8 258.65"/>
<path class="c" d="M724.55 260L731.15 266.9L737.75 260"/>
<path class="c" d="M729.25 269L722.5 275.75"/>
<path class="c" d="M733.05 269L739.8 275.75"/>
<path class="c" d="M724.55 277.1L731.15 284L737.75 277.1"/>
<path class="c" d="M729.25 286.1L722.5 292.85"/>
<path class="c" d="M733.05 286.1L739.8 292.85"/>
<path class="c" d="M724.55 294.2L731.15 301.1L737.75 294.2"/>
<path class="c" d="M729.25 303.2L722.5 309.95"/>
<path class="c" d="M733.05 303.2L739.8 309.95"/>
<path class="c" d="M724.55 311.3L731.15 318.2L737.75 311.3"/>
<path class="c" d="M729.25 320.3L722.5 327.05"/>
<path class="c" d="M733.05 320.3L739.8 327.05"/>
<path class="c" d="M724.55 328.4L731.15 335.3L737.75 328.4"/>
<path class="c" d="M729.25 337.4L722.5 344.15"/>
<path class="c" d="M733.05 337.4L739.8 344.15"/>
</g>
<rect class="i" x="742.5" y="218.3" width="14.7" height="96.9"/>
<path class="i" d="M741.1 218.3L758.4 218.3"/>
<path class="i" d="M741.1 315.2L758.4 315.2"/>
<rect class="o" x="758.4" y="216.4" width="19.6" height="101.1" rx="2.2"/>
<path class="i" d="M759.8 217L759.8 317"/>
<path class="i" d="M776.6 217L776.6 317"/>
<clipPath id="cp2"><rect x="759.8" y="216.4" width="16.8" height="101.1"/></clipPath><g clip-path="url(#cp2)">
<path class="c" d="M761.6 191.6L768.2 198.5L774.8 191.6"/>
<path class="c" d="M766.3 200.6L759.8 207.1"/>
<path class="c" d="M770.1 200.6L776.6 207.1"/>
<path class="c" d="M761.6 208.7L768.2 215.6L774.8 208.7"/>
<path class="c" d="M766.3 217.7L759.8 224.2"/>
<path class="c" d="M770.1 217.7L776.6 224.2"/>
<path class="c" d="M761.6 225.8L768.2 232.7L774.8 225.8"/>
<path class="c" d="M766.3 234.8L759.8 241.3"/>
<path class="c" d="M770.1 234.8L776.6 241.3"/>
<path class="c" d="M761.6 242.9L768.2 249.8L774.8 242.9"/>
<path class="c" d="M766.3 251.9L759.8 258.4"/>
<path class="c" d="M770.1 251.9L776.6 258.4"/>
<path class="c" d="M761.6 260L768.2 266.9L774.8 260"/>
<path class="c" d="M766.3 269L759.8 275.5"/>
<path class="c" d="M770.1 269L776.6 275.5"/>
<path class="c" d="M761.6 277.1L768.2 284L774.8 277.1"/>
<path class="c" d="M766.3 286.1L759.8 292.6"/>
<path class="c" d="M770.1 286.1L776.6 292.6"/>
<path class="c" d="M761.6 294.2L768.2 301.1L774.8 294.2"/>
<path class="c" d="M766.3 303.2L759.8 309.7"/>
<path class="c" d="M770.1 303.2L776.6 309.7"/>
<path class="c" d="M761.6 311.3L768.2 318.2L774.8 311.3"/>
<path class="c" d="M766.3 320.3L759.8 326.8"/>
<path class="c" d="M770.1 320.3L776.6 326.8"/>
<path class="c" d="M761.6 328.4L768.2 335.3L774.8 328.4"/>
<path class="c" d="M766.3 337.4L759.8 343.9"/>
<path class="c" d="M770.1 337.4L776.6 343.9"/>
</g>
<path class="o" d="M778 216.4H792Q794.5 217 794.5 220.5V313.5Q794.5 317 792 317.5H778"/>
<path class="i" d="M779.7 218.3H790.5Q792.9 218.6 792.9 221.5V312.5Q792.9 315.4 790.5 315.7H779.7Z"/>
<path class="o" d="M794.5 239.2H806.2V294.5H794.5"/>
<path class="o" d="M794.5 236.2H800.3Q801.8 236.6 802 239.2"/>
<path class="o" d="M794.5 267.4H801.6V272.2Q801.4 273.2 800 273.3H794.5"/>
<path class="o" d="M794.5 287.8H801.6V293Q801.4 294.3 800 294.5"/>
<path class="o" d="M794.5 289.2L801.6 289.2"/>
<path class="o" d="M794.5 237.5L801 237.5"/>
<path class="c" d="M677 267.4L705 267.4"/>
<path class="c" d="M710 267.4L716.5 267.4"/>
<path class="c" d="M722.5 267.4L762 267.4"/>
<path class="c" d="M767 267.4L774 267.4"/>
<path class="c" d="M781 267.4L808 267.4"/>
<path class="d" d="M667.5 227.5L689 227.5"/>
<path class="d" d="M667.5 306.5L689 306.5"/>
<path class="d" d="M673.3 227.5L673.3 306.5"/>
<path class="k" d="M673.3 227.5L674.35 233.5L672.25 233.5Z"/>
<path class="k" d="M673.3 306.5L672.25 300.5L674.35 300.5Z"/>
<text class="t" transform="translate(667 265) rotate(-90) scale(0.9 1)">M</text>
<path class="d" d="M778 216.4L833.9 216.4"/>
<path class="d" d="M778 317.5L833.9 317.5"/>
<path class="d" d="M828.5 216.4L828.5 317.5"/>
<path class="k" d="M828.5 216.4L829.55 222.4L827.45 222.4Z"/>
<path class="k" d="M828.5 317.5L827.45 311.5L829.55 311.5Z"/>
<text class="t" transform="translate(823.4 262.2) rotate(-90) scale(0.9 1)" letter-spacing=".6">ΦD1</text>
<path class="d" d="M680.4 304L680.4 340.6"/>
<path class="d" d="M806.2 294.5L806.2 371.4"/>
<path class="d" d="M680.4 335.6L806.2 335.6"/>
<path class="k" d="M680.4 335.6L686.4 334.55L686.4 336.65Z"/>
<path class="k" d="M806.2 335.6L800.2 336.65L800.2 334.55Z"/>
<text class="t" transform="translate(741.5 329.6) scale(0.9 1)" letter-spacing=".7">28.5</text>
<path class="d" d="M540.8 366.9L806.2 366.9"/>
<path class="k" d="M540.8 366.9L546.8 365.85L546.8 367.95Z"/>
<path class="k" d="M806.2 366.9L800.2 367.95L800.2 365.85Z"/>
<text class="t" transform="translate(669.3 362.5) scale(0.9 1)">L1</text>
<path class="o" d="M1116.2 218.6L1210.3 218.6L1221.1 229.4L1221.1 323.8L1210.3 334.6L1116.2 334.6L1105.4 323.8L1105.4 229.4Z"/>
<circle class="o" cx="1163.4" cy="276.5" r="51.3"/>
<circle class="o" cx="1163.4" cy="276.5" r="47.5"/>
<circle class="o" cx="1163.4" cy="276.5" r="41.1"/>
<circle class="o" cx="1163.4" cy="276.5" r="35.7"/>
<circle class="o" cx="1163.4" cy="276.5" r="22"/>
<path class="o" d="M1210.4 256.1L1210.4 296.9"/>
<path class="o" d="M1204.57 307L1169.23 327.4"/>
<path class="o" d="M1157.57 327.4L1122.23 307"/>
<path class="o" d="M1116.4 296.9L1116.4 256.1"/>
<path class="o" d="M1122.23 246L1157.57 225.6"/>
<path class="o" d="M1169.23 225.6L1204.57 246"/>
<path class="o" d="M1149.34 297.77L1146.15 301.58L1141.7 297.85L1144.89 294.04A25.5 25.5 0 0 1 1139.75 286.02L1134.96 287.34L1133.42 281.75L1138.2 280.43A25.5 25.5 0 0 1 1156.3 252.01L1156.3 246.2L1170.5 246.2L1170.5 252.01A25.5 25.5 0 0 1 1188.5 281L1193.26 282.43L1191.59 287.98L1186.83 286.56A25.5 25.5 0 0 1 1179.87 295.97L1182.62 300.1L1177.8 303.32L1175.04 299.19A25.5 25.5 0 0 1 1149.34 297.77Z"/>
<path class="c" d="M1100.2 276.5L1181 276.5"/>
<path class="c" d="M1188.5 276.5L1196 276.5"/>
<path class="c" d="M1203.5 276.5L1227.9 276.5"/>
<path class="c" d="M1163.4 215.7L1163.4 249"/>
<path class="c" d="M1163.4 257L1163.4 338.8"/>
<path class="d" d="M1151 238.2L1257.3 238.2"/>
<path class="d" d="M1168 317.5L1257.3 317.5"/>
<path class="d" d="M1251.4 238.2L1251.4 317.5"/>
<path class="k" d="M1251.4 238.2L1252.45 244.2L1250.35 244.2Z"/>
<path class="k" d="M1251.4 317.5L1250.35 311.5L1252.45 311.5Z"/>
<text class="t" transform="translate(1245.8 278.6) rotate(-90) scale(0.9 1)">C</text>
<path class="d" d="M1210.3 218.6L1283.2 218.6"/>
<path class="d" d="M1210.3 334.6L1283.2 334.6"/>
<path class="d" d="M1276.7 218.6L1276.7 334.6"/>
<path class="k" d="M1276.7 218.6L1277.75 224.6L1275.65 224.6Z"/>
<path class="k" d="M1276.7 334.6L1275.65 328.6L1277.75 328.6Z"/>
<text class="t" transform="translate(1271.1 278) rotate(-90) scale(0.9 1)">A</text>
<path class="d" d="M1116.5 250L1116.5 366.4"/>
<path class="d" d="M1210.5 250L1210.5 366.4"/>
<path class="d" d="M1116.5 360.4L1210.5 360.4"/>
<path class="k" d="M1116.5 360.4L1122.5 359.35L1122.5 361.45Z"/>
<path class="k" d="M1210.5 360.4L1204.5 361.45L1204.5 359.35Z"/>
<text class="t" transform="translate(1164.9 354.8) scale(0.9 1)">B</text>
<path class="d" d="M1105.4 229.4L1105.4 391.7"/>
<path class="d" d="M1221.1 229.4L1221.1 391.7"/>
<path class="d" d="M1105.4 385.4L1221.1 385.4"/>
<path class="k" d="M1105.4 385.4L1111.4 384.35L1111.4 386.45Z"/>
<path class="k" d="M1221.1 385.4L1215.1 386.45L1215.1 384.35Z"/>
<text class="t" transform="translate(1164.5 380.8) scale(0.9 1)">A</text>
<rect class="o" x="1344.3" y="216.4" width="15" height="121.3" rx="2.8"/>
<path class="o" d="M1359.3 232.2L1371.6 232.2"/>
<path class="o" d="M1359.3 322.5L1371.6 322.5"/>
<path class="o" d="M1364.8 217.3H1367.6Q1369.9 222 1369.7 232V322Q1369.9 332 1367.6 337H1364.8"/>
<path class="o" d="M1371.63 221.83L1373.83 217.69L1381.6 217.69L1383.93 221.83L1383.93 243.83L1380.57 247.72L1380.57 258.72L1383.93 261.96L1383.93 293.03L1380.57 296.26L1380.57 307.27L1383.93 310.5L1383.93 333.16L1381.6 336.78L1373.83 336.78L1371.63 333.16L1371.63 310.5L1374.74 307.27L1374.74 296.26L1371.63 293.03L1371.63 261.96L1374.74 258.72L1374.74 247.72L1371.63 243.83Z"/>
<path class="o" d="M1374.74 247.72L1380.57 247.72"/>
<path class="o" d="M1374.74 258.72L1380.57 258.72"/>
<path class="o" d="M1374.74 296.26L1380.57 296.26"/>
<path class="o" d="M1374.74 307.27L1380.57 307.27"/>
<rect class="o" x="1383.9" y="232.2" width="8.7" height="89.3"/>
<path class="o" d="M1391 232.2L1391 321.5"/>
<path class="o" d="M1383.9 234.1L1391 234.1"/>
<path class="o" d="M1383.9 319.6L1391 319.6"/>
<rect class="o" x="1392.6" y="241.6" width="47" height="70.8"/>
<path class="o" d="M1437.9 241.6L1437.9 312.4"/>
<circle class="o" cx="1422.6" cy="266.1" r="2.6"/>
<rect class="o" x="1420.5" y="312.4" width="5.1" height="3.9" rx="0.8"/>
<path class="o" d="M1423 309.2L1423 317.6"/>
<path class="c" d="M1338.9 277.2L1380.3 277.2"/>
<path class="c" d="M1387.4 277.2L1394.5 277.2"/>
<path class="c" d="M1402.3 277.2L1443.7 277.2"/>
<path class="d" d="M1439.6 241.6L1468.1 241.6"/>
<path class="d" d="M1439.6 312.4L1468.1 312.4"/>
<path class="d" d="M1462.1 241.6L1462.1 312.4"/>
<path class="k" d="M1462.1 241.6L1463.15 247.6L1461.05 247.6Z"/>
<path class="k" d="M1462.1 312.4L1461.05 306.4L1463.15 306.4Z"/>
<text class="t" transform="translate(1457.6 276.8) rotate(-90) scale(0.9 1)" letter-spacing=".6">ΦD1</text>
<path class="d" d="M1392.6 232.2L1490.9 232.2"/>
<path class="d" d="M1392.6 321.5L1490.9 321.5"/>
<path class="d" d="M1484.6 232.2L1484.6 321.5"/>
<path class="k" d="M1484.6 232.2L1485.65 238.2L1483.55 238.2Z"/>
<path class="k" d="M1484.6 321.5L1483.55 315.5L1485.65 315.5Z"/>
<text class="t" transform="translate(1479.9 274.5) rotate(-90) scale(0.9 1)">M</text>
<path class="d" d="M1359.3 207.6L1359.3 366"/>
<path class="d" d="M1364.8 210.2L1364.8 337"/>
<path class="d" d="M1364.8 211.5L1387.8 211.5"/>
<circle class="k" cx="1359.3" cy="211.5" r="1.7"/>
<circle class="k" cx="1364.8" cy="211.5" r="1.7"/>
<text class="t" transform="translate(1377.6 207.2) scale(0.9 1)">L3</text>
<path class="d" d="M1323.3 359.8L1359.3 359.8"/>
<circle class="k" cx="1344.5" cy="359.8" r="1.7"/>
<circle class="k" cx="1359.3" cy="359.8" r="1.7"/>
<text class="t" transform="translate(1333.7 355.8) scale(0.9 1)">L2</text>
<path class="d" d="M1344.3 337.7L1344.3 392.2"/>
<path class="d" d="M1439.6 312.4L1439.6 392.2"/>
<path class="d" d="M1344.3 387.6L1439.6 387.6"/>
<path class="k" d="M1344.3 387.6L1350.3 386.55L1350.3 388.65Z"/>
<path class="k" d="M1439.6 387.6L1433.6 388.65L1433.6 386.55Z"/>
<text class="t" transform="translate(1392.4 382.4) scale(0.9 1)">L1</text>
<path class="o" d="M397.29 669.26H388.3Q383.6 669.26 383.6 673.99V731.65Q383.6 736.39 388.3 736.39H397.29"/>
<path class="o" d="M396.28 670.53H388.72Q385.03 670.53 385.03 674.25V731.4Q385.03 735.12 388.72 735.12H396.28"/>
<path class="o" d="M396.28 670.53Q397.29 670.78 397.29 673.49V687.18"/>
<path class="o" d="M396.28 735.12Q397.29 734.87 397.29 732.16V717.03"/>
<path class="o" d="M385.03 687.18L399.64 687.18"/>
<path class="o" d="M385.03 717.03L399.64 717.03"/>
<path class="o" d="M383.6 685.15L397.29 685.15"/>
<path class="o" d="M383.6 719.14L397.29 719.14"/>
<path class="o" d="M397.29 687.18L397.29 717.03"/>
<path class="o" d="M399.64 677.12L399.64 727.76"/>
<path class="o" d="M401.82 669.34L401.82 735.71"/>
<circle class="i" cx="391.24" cy="677.54" r="3.44"/>
<circle class="c" cx="391.24" cy="677.54" r="1.89"/>
<path class="i" d="M388.49 677.54L393.99 677.54"/>
<path class="i" d="M391.24 674.79L391.24 680.3"/>
<circle class="i" cx="391.24" cy="727.34" r="3.44"/>
<circle class="c" cx="391.24" cy="727.34" r="1.89"/>
<path class="i" d="M388.49 727.34L393.99 727.34"/>
<path class="i" d="M391.24 724.59L391.24 730.09"/>
<circle class="o" cx="400.31" cy="675.68" r="1.26"/>
<circle class="k" cx="400.31" cy="675.68" r="0.67"/>
<circle class="o" cx="400.31" cy="729.37" r="1.26"/>
<circle class="k" cx="400.31" cy="729.37" r="0.67"/>
<path class="o" d="M397.29 669.26L401.82 669.26L415.92 667.23"/>
<path class="o" d="M397.29 736.39L401.82 735.8L415.92 737.82"/>
<path class="o" d="M415.92 737.49V667.31Q416.01 665.2 418.02 665.2H448.33V739.6H418.02Q416.01 739.6 415.92 737.49Z"/>
<path class="o" d="M418.02 665.2L418.02 739.6"/>
<path class="g" d="M418.53 666.64L448 666.64"/>
<path class="g" d="M418.53 672.47L448 672.47"/>
<path class="g" d="M418.53 678.39L448 678.39"/>
<path class="g" d="M418.53 683.63L448 683.63"/>
<path class="g" d="M418.53 689.72L448 689.72"/>
<path class="g" d="M418.53 695.97L448 695.97"/>
<path class="g" d="M418.53 708.83L448 708.83"/>
<path class="g" d="M418.53 714.74L448 714.74"/>
<path class="g" d="M418.53 720.58L448 720.58"/>
<path class="g" d="M418.53 727L448 727"/>
<path class="g" d="M418.53 732.33L448 732.33"/>
<path class="g" d="M418.53 738.16L448 738.16"/>
<path class="g" d="M418.53 702.15L448 702.15"/>
<path class="g" d="M447.24 665.2L447.24 739.6"/>
<rect class="o" x="448.33" y="665.2" width="9.07" height="74.4"/>
<rect class="o" x="449.84" y="667.82" width="7.14" height="69.75"/>
<path class="c" d="M377 702.4L411 702.4"/>
<path class="c" d="M416.6 702.4L460.6 702.4"/>
<path class="d" d="M383.6 650.2L383.6 669.26"/>
<path class="d" d="M383.6 736.39L383.6 801.8"/>
<path class="d" d="M457.4 650.2L457.4 665.1"/>
<path class="d" d="M383.6 657L457.4 657"/>
<path class="k" d="M383.6 657L389.6 655.95L389.6 658.05Z"/>
<path class="k" d="M457.4 657L451.4 658.05L451.4 655.95Z"/>
<text class="t" transform="translate(419.7 651.6) scale(0.9 1)">L3</text>
<path class="d" d="M367.9 685.15L383.6 685.15"/>
<path class="d" d="M367.9 719.14L383.6 719.14"/>
<path class="d" d="M372.6 685.15L372.6 719.14"/>
<path class="k" d="M372.6 685.15L373.65 691.15L371.55 691.15Z"/>
<path class="k" d="M372.6 719.14L371.55 713.14L373.65 713.14Z"/>
<text class="t" transform="translate(367.8 702.4) rotate(-90) scale(0.9 1)" letter-spacing=".6">ΦD3</text>
<path class="d" d="M457.4 665.1L480.2 665.1"/>
<path class="d" d="M457.4 739.6L480.2 739.6"/>
<path class="d" d="M476.6 665.1L476.6 739.6"/>
<path class="k" d="M476.6 665.1L477.65 671.1L475.55 671.1Z"/>
<path class="k" d="M476.6 739.6L475.55 733.6L477.65 733.6Z"/>
<text class="t" transform="translate(471.9 701.3) rotate(-90) scale(0.9 1)" letter-spacing=".6">ΦD2</text>
<path class="d" d="M489.2 669.1L510 669.1"/>
<path class="d" d="M489.2 735.3L510 735.3"/>
<path class="d" d="M493.6 669.1L493.6 735.3"/>
<path class="k" d="M493.6 669.1L494.65 675.1L492.55 675.1Z"/>
<path class="k" d="M493.6 735.3L492.55 729.3L494.65 729.3Z"/>
<text class="t" transform="translate(489.2 700.9) rotate(-90) scale(0.9 1)">M</text>
<rect class="i" x="507.4" y="672.2" width="1.9" height="60.5"/>
<rect class="o" x="509.3" y="669.1" width="18.5" height="66.2" rx="1.2"/>
<path class="i" d="M511.2 669.1L511.2 735.3"/>
<path class="i" d="M525.8 669.1L525.8 735.3"/>
<path class="o" d="M527.8 672.7L553.4 672.7"/>
<path class="o" d="M561.1 672.7L607.7 672.7"/>
<path class="o" d="M527.8 731.9L553.4 731.9"/>
<path class="o" d="M561.1 731.9L607.7 731.9"/>
<path class="o" d="M607.7 672.7L607.7 731.9"/>
<rect class="o" x="553.4" y="658.1" width="7.7" height="88.7"/>
<path class="d" d="M553.4 746.8L553.4 765.6"/>
<path class="d" d="M561.1 746.8L561.1 765.6"/>
<path class="c" stroke-dasharray="23 5 7 5" d="M503 702.5L611.5 702.5"/>
<circle class="o" cx="597.2" cy="683.5" r="3.8"/>
<path class="c" d="M592.45 683.5L601.95 683.5"/>
<path class="c" d="M597.2 678.75L597.2 688.25"/>
<path class="o" d="M593.4 731.9V733.7Q593.4 734.9 594.6 734.9H599.8Q601 734.9 601 733.7V731.9"/>
<path class="d" d="M607.7 672.7L628.3 672.7"/>
<path class="d" d="M607.7 731.9L628.3 731.9"/>
<path class="d" d="M623.6 672.7L623.6 731.9"/>
<path class="k" d="M623.6 672.7L624.65 678.7L622.55 678.7Z"/>
<path class="k" d="M623.6 731.9L622.55 725.9L624.65 725.9Z"/>
<text class="t" transform="translate(618.5 702) rotate(-90) scale(0.9 1)" letter-spacing=".6">ΦD1</text>
<path class="d" d="M533.6 760.9L553.4 760.9"/>
<path class="k" d="M553.4 760.9L547.4 761.95L547.4 759.85Z"/>
<path class="d" d="M561.1 760.9L607.7 760.9"/>
<path class="k" d="M561.1 760.9L567.1 759.85L567.1 761.95Z"/>
<path class="k" d="M607.7 760.9L601.7 761.95L601.7 759.85Z"/>
<text class="t" transform="translate(540.3 756.2) scale(0.9 1)">L2</text>
<text class="t" transform="translate(581 756.2) scale(0.9 1)" letter-spacing=".7">14.5</text>
<path class="d" d="M507.4 732.7L507.4 783.7"/>
<path class="d" d="M607.7 731.9L607.7 801.8"/>
<path class="d" d="M507.4 779.5L607.7 779.5"/>
<path class="k" d="M507.4 779.5L513.4 778.45L513.4 780.55Z"/>
<path class="k" d="M607.7 779.5L601.7 780.55L601.7 778.45Z"/>
<text class="t" transform="translate(557 775.3) scale(0.9 1)">29</text>
<path class="d" d="M383.6 797.5L607.7 797.5"/>
<path class="k" d="M383.6 797.5L389.6 796.45L389.6 798.55Z"/>
<path class="k" d="M607.7 797.5L601.7 798.55L601.7 796.45Z"/>
<text class="t" transform="translate(485 792.4) scale(0.9 1)">L1</text>
<rect class="o" x="703.3" y="658.55" width="88.6" height="88.6" rx="2.4"/>
<circle class="o" cx="714.3" cy="669.55" r="6.9"/>
<path class="c" d="M707 669.55L721.6 669.55"/>
<path class="c" d="M714.3 662.25L714.3 676.85"/>
<circle class="o" cx="714.3" cy="736.15" r="6.9"/>
<path class="c" d="M707 736.15L721.6 736.15"/>
<path class="c" d="M714.3 728.85L714.3 743.45"/>
<circle class="o" cx="780.9" cy="669.55" r="6.9"/>
<path class="c" d="M773.6 669.55L788.2 669.55"/>
<path class="c" d="M780.9 662.25L780.9 676.85"/>
<circle class="o" cx="780.9" cy="736.15" r="6.9"/>
<path class="c" d="M773.6 736.15L788.2 736.15"/>
<path class="c" d="M780.9 728.85L780.9 743.45"/>
<circle class="o" cx="747.6" cy="702.85" r="29.7"/>
<circle class="o" cx="747.6" cy="702.85" r="20.8"/>
<path class="o" d="M733.92 722.2L731.64 724.56L726.46 719.56L728.74 717.2A23.7 23.7 0 0 1 725.59 711.64L722.47 712.41L720.92 706.2L724.04 705.43A23.7 23.7 0 0 1 740 680.4L740 676.15L755.2 676.15L755.2 680.4A23.7 23.7 0 0 1 771.3 702.74L774.47 703.13L773.74 709.08L770.57 708.69A23.7 23.7 0 0 1 765.95 717.85L768.14 720.28L762.79 725.1L760.6 722.67A23.7 23.7 0 0 1 733.92 722.2Z"/>
<path class="o" d="M743.4 732.25V734.05Q743.4 735.25 744.6 735.25H750.6Q751.8 735.25 751.8 734.05V732.25"/>
<g transform="rotate(-58.5 747.6 702.85)"><rect class="c" x="744.5" y="670.25" width="6.2" height="3" rx="0.8"/><path class="c" d="M747.6 667.85V674.85"/></g>
<g transform="rotate(58.5 747.6 702.85)"><rect class="c" x="744.5" y="670.25" width="6.2" height="3" rx="0.8"/><path class="c" d="M747.6 667.85V674.85"/></g>
<path class="c" d="M701.2 702.85L741.3 702.85"/>
<path class="c" d="M746.4 702.85L752 702.85"/>
<path class="c" d="M756.6 702.85L796.8 702.85"/>
<path class="c" stroke-dasharray="6.3 5.15" d="M747.6 654.85L747.6 751.15"/>
<path class="d" d="M641.8 691.8L689.6 691.8L734.7 652.35"/>
<path class="k" d="M719.49 665.01L723.29 660.23L724.73 661.88Z"/>
<path class="k" d="M709.11 674.09L705.31 678.87L703.87 677.22Z"/>
<text class="t" transform="translate(668 686.95) scale(0.9 1)" letter-spacing="1.1">4−Φ3.6</text>
<path class="d" d="M780.9 669.55L812.9 669.55"/>
<path class="d" d="M780.9 736.15L812.9 736.15"/>
<path class="d" d="M808.3 669.55L808.3 736.15"/>
<path class="k" d="M808.3 669.55L809.35 675.55L807.25 675.55Z"/>
<path class="k" d="M808.3 736.15L807.25 730.15L809.35 730.15Z"/>
<text class="t" transform="translate(803.8 701.55) rotate(-90) scale(0.9 1)">B</text>
<path class="d" d="M791.9 658.55L826.7 658.55"/>
<path class="d" d="M791.9 747.15L826.7 747.15"/>
<path class="d" d="M822.2 658.55L822.2 747.15"/>
<path class="k" d="M822.2 658.55L823.25 664.55L821.15 664.55Z"/>
<path class="k" d="M822.2 747.15L821.15 741.15L823.25 741.15Z"/>
<text class="t" transform="translate(818.2 702.25) rotate(-90) scale(0.9 1)">A</text>
<path class="d" d="M714.3 736.15L714.3 766.25"/>
<path class="d" d="M780.9 736.15L780.9 766.25"/>
<path class="d" d="M714.3 761.95L780.9 761.95"/>
<path class="k" d="M714.3 761.95L720.3 760.9L720.3 763Z"/>
<path class="k" d="M780.9 761.95L774.9 763L774.9 760.9Z"/>
<text class="t" transform="translate(747.9 757.45) scale(0.9 1)">B</text>
<path class="d" d="M703.3 747.15L703.3 778.85"/>
<path class="d" d="M791.9 747.15L791.9 778.85"/>
<path class="d" d="M703.3 774.55L791.9 774.55"/>
<path class="k" d="M703.3 774.55L709.3 773.5L709.3 775.6Z"/>
<path class="k" d="M791.9 774.55L785.9 775.6L785.9 773.5Z"/>
<text class="t" transform="translate(747.8 770.45) scale(0.9 1)">A</text>
<path class="o" d="M1008.8 703.3L1064.6 703.3"/>
<path class="o" d="M1073.7 703.3L1129.3 703.3"/>
<path class="o" d="M1008.8 774.5L1064.6 774.5"/>
<path class="o" d="M1073.7 774.5L1129.3 774.5"/>
<path class="o" d="M1008.8 703.3L1008.8 774.5"/>
<path class="o" d="M1129.3 703.3L1129.3 774.5"/>
<rect class="o" x="1064.6" y="685.2" width="9.1" height="107.2"/>
<path class="d" d="M1064.6 792.4L1064.6 814"/>
<path class="d" d="M1073.7 792.4L1073.7 814"/>
<path class="c" stroke-dasharray="25.5 5.5 7 6.5 40 6.5 7 6.5 25.5" d="M1004.5 738.7L1133.8 738.7"/>
<circle class="o" cx="1020.6" cy="716.3" r="4.6"/>
<path class="c" d="M1014.85 716.3L1026.35 716.3"/>
<path class="c" d="M1020.6 710.55L1020.6 722.05"/>
<path class="o" d="M1015.9 774.5V777.5Q1015.9 778.7 1017.1 778.7H1024.1Q1025.3 778.7 1025.3 777.5V774.5"/>
<path class="c" d="M1020.6 770L1020.6 782"/>
<circle class="o" cx="1117.5" cy="716.3" r="4.6"/>
<path class="c" d="M1111.75 716.3L1123.25 716.3"/>
<path class="c" d="M1117.5 710.55L1117.5 722.05"/>
<path class="o" d="M1112.8 774.5V777.5Q1112.8 778.7 1114 778.7H1121Q1122.2 778.7 1122.2 777.5V774.5"/>
<path class="c" d="M1117.5 770L1117.5 782"/>
<path class="d" d="M983.6 703.3L1008.8 703.3"/>
<path class="d" d="M983.6 774.5L1008.8 774.5"/>
<path class="d" d="M988.7 703.3L988.7 774.5"/>
<path class="k" d="M988.7 703.3L989.75 709.3L987.65 709.3Z"/>
<path class="k" d="M988.7 774.5L987.65 768.5L989.75 768.5Z"/>
<text class="t" transform="translate(982.6 737.9) rotate(-90) scale(0.9 1)" letter-spacing=".6">ΦD1</text>
<path class="d" d="M1008.8 809.3L1064.6 809.3"/>
<path class="k" d="M1008.8 809.3L1014.8 808.25L1014.8 810.35Z"/>
<path class="k" d="M1064.6 809.3L1058.6 810.35L1058.6 808.25Z"/>
<text class="t" transform="translate(1033.9 803.8) scale(0.9 1)" letter-spacing=".7">16.5</text>
<path class="d" d="M1073.7 809L1084.5 809"/>
<text class="t" transform="translate(1079 805.1) scale(0.9 1)">3</text>
<path class="d" d="M1008.8 774.5L1008.8 837.6"/>
<path class="d" d="M1129.3 774.5L1129.3 837.6"/>
<path class="d" d="M1008.8 832.1L1129.3 832.1"/>
<path class="k" d="M1008.8 832.1L1014.8 831.05L1014.8 833.15Z"/>
<path class="k" d="M1129.3 832.1L1123.3 833.15L1123.3 831.05Z"/>
<text class="t" transform="translate(1062.2 827.5) scale(0.9 1)">36</text>
<rect class="o" x="1212.73" y="686.03" width="107.13" height="107.13" rx="2.87"/>
<circle class="o" cx="1226.44" cy="699.74" r="8.26"/>
<path class="c" d="M1217.7 699.74L1235.18 699.74"/>
<path class="c" d="M1226.44 691L1226.44 708.48"/>
<circle class="o" cx="1226.44" cy="779.46" r="8.26"/>
<path class="c" d="M1217.7 779.46L1235.18 779.46"/>
<path class="c" d="M1226.44 770.72L1226.44 788.2"/>
<circle class="o" cx="1306.16" cy="699.74" r="8.26"/>
<path class="c" d="M1297.42 699.74L1314.9 699.74"/>
<path class="c" d="M1306.16 691L1306.16 708.48"/>
<circle class="o" cx="1306.16" cy="779.46" r="8.26"/>
<path class="c" d="M1297.42 779.46L1314.9 779.46"/>
<path class="c" d="M1306.16 770.72L1306.16 788.2"/>
<circle class="o" cx="1266.3" cy="739.6" r="35.55"/>
<circle class="o" cx="1266.3" cy="739.6" r="24.9"/>
<path class="o" d="M1249.92 762.76L1247.2 765.58L1241 759.6L1243.72 756.78A28.37 28.37 0 0 1 1239.95 750.12L1236.22 751.05L1234.36 743.62L1238.1 742.68A28.37 28.37 0 0 1 1257.2 712.73L1257.2 707.64L1275.4 707.64L1275.4 712.73A28.37 28.37 0 0 1 1294.67 739.47L1298.46 739.93L1297.58 747.06L1293.79 746.59A28.37 28.37 0 0 1 1288.26 757.55L1290.89 760.47L1284.48 766.23L1281.86 763.32A28.37 28.37 0 0 1 1249.92 762.76Z"/>
<path class="o" d="M1261.27 774.79V776.95Q1261.27 778.38 1262.71 778.38H1269.89Q1271.33 778.38 1271.33 776.95V774.79"/>
<g transform="rotate(-58.5 1266.3 739.6)"><rect class="c" x="1262.59" y="700.58" width="7.42" height="3.59" rx="0.96"/><path class="c" d="M1266.3 697.71V706.08"/></g>
<g transform="rotate(58.5 1266.3 739.6)"><rect class="c" x="1262.59" y="700.58" width="7.42" height="3.59" rx="0.96"/><path class="c" d="M1266.3 697.71V706.08"/></g>
<path class="c" d="M1210.76 739.6L1258.76 739.6"/>
<path class="c" d="M1264.86 739.6L1271.57 739.6"/>
<path class="c" d="M1277.07 739.6L1325.19 739.6"/>
<path class="c" stroke-dasharray="7.54 6.16" d="M1266.3 682.14L1266.3 797.42"/>
<path class="d" d="M1151.39 726.37L1196.87 726.37L1250.86 679.15"/>
<path class="k" d="M1232.66 694.3L1236.45 689.52L1237.9 691.18Z"/>
<path class="k" d="M1220.22 705.18L1216.43 709.96L1214.98 708.3Z"/>
<text class="t" transform="translate(1171.02 720.57) scale(0.9 1)" letter-spacing="1.1">4−Φ3.6</text>
<path class="d" d="M1306.16 699.74L1344.46 699.74"/>
<path class="d" d="M1306.16 779.46L1344.46 779.46"/>
<path class="d" d="M1338.96 699.74L1338.96 779.46"/>
<path class="k" d="M1338.96 699.74L1340.01 705.74L1337.91 705.74Z"/>
<path class="k" d="M1338.96 779.46L1337.91 773.46L1340.01 773.46Z"/>
<text class="t" transform="translate(1333.57 738.04) rotate(-90) scale(0.9 1)">B</text>
<path class="d" d="M1319.87 686.03L1360.98 686.03"/>
<path class="d" d="M1319.87 793.17L1360.98 793.17"/>
<path class="d" d="M1355.6 686.03L1355.6 793.17"/>
<path class="k" d="M1355.6 686.03L1356.65 692.03L1354.55 692.03Z"/>
<path class="k" d="M1355.6 793.17L1354.55 787.17L1356.65 787.17Z"/>
<text class="t" transform="translate(1350.81 738.88) rotate(-90) scale(0.9 1)">A</text>
<path class="d" d="M1226.44 779.46L1226.44 815.49"/>
<path class="d" d="M1306.16 779.46L1306.16 815.49"/>
<path class="d" d="M1226.44 810.34L1306.16 810.34"/>
<path class="k" d="M1226.44 810.34L1232.44 809.29L1232.44 811.39Z"/>
<path class="k" d="M1306.16 810.34L1300.16 811.39L1300.16 809.29Z"/>
<text class="t" transform="translate(1266.66 804.96) scale(0.9 1)">B</text>
<path class="d" d="M1212.73 793.17L1212.73 831.77"/>
<path class="d" d="M1319.87 793.17L1319.87 831.77"/>
<path class="d" d="M1212.73 826.62L1319.87 826.62"/>
<path class="k" d="M1212.73 826.62L1218.73 825.57L1218.73 827.67Z"/>
<path class="k" d="M1319.87 826.62L1313.87 827.67L1313.87 825.57Z"/>
<text class="t" transform="translate(1266.54 823.16) scale(0.9 1)">A</text>
</svg>
</body>
</html>
